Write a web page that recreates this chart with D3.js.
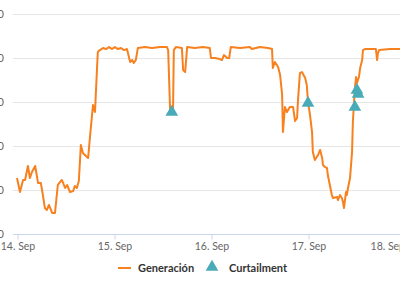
<!DOCTYPE html>
<html>
<head>
<meta charset="utf-8">
<script src="https://cdn.jsdelivr.net/npm/d3@7"></script>
<style>
  body { margin: 0; background: #fff; }
  svg { font-family: Lato, "Open Sans", sans-serif; display: block; }
</style>
</head>
<body>
<div id="chart"></div>
<script>
// hours since 14 Sep 00:00
const genHours = [0, 0.74, 1.5, 2.0, 2.7, 3.2, 3.7, 4.5, 5.2, 5.9, 6.4, 6.9, 7.4, 7.9, 8.7, 9.4, 10.1, 11.1, 11.9, 12.4,
  13.1, 13.9, 14.3, 14.8, 15.3, 15.8, 16.3, 16.8, 17.6, 18.1, 18.8, 19.3, 19.8, 20.0, 20.5, 21.3, 22.0, 22.8, 23.5, 24.2,
  25.0, 25.7, 26.5, 27.2, 28.0, 28.5, 28.9, 29.4, 29.9, 31.7, 33.4, 35.4, 37.1, 37.4, 37.9, 38.6, 38.8, 39.3, 40.8, 41.1,
  41.6, 42.1, 44.0, 46.0, 47.7, 48.0, 49.0, 50.2, 50.7, 51.2, 52.0, 52.5, 52.9, 55.2, 57.6, 58.1, 60.1, 62.1, 63.1, 63.3,
  63.8, 64.6, 65.1, 65.6, 65.8, 66.3, 66.8, 67.5, 68.3, 68.8, 69.3, 69.5, 70.0, 70.5, 71.3, 71.7, 72.0, 72.5, 73.0, 73.2,
  73.7, 74.5, 75.0, 75.5, 75.7, 76.2, 76.7, 76.9, 77.4, 77.9, 78.2, 79.2, 79.4, 79.9, 80.4, 80.7, 80.9, 81.4, 81.6, 81.9,
  82.4, 82.9, 83.1, 83.4, 83.6, 83.9, 84.1, 84.6, 84.9, 85.4, 85.6, 86.1, 88.8, 89.1, 89.3, 89.6, 92.3, 94.8, 96.5];
const generacion = [63.6, 47.7, 61.4, 61.4, 77.3, 63.6, 70.5, 77.3, 58, 58, 44.3, 29.5, 27.3, 33, 23.9, 23.9, 55.7, 61.4, 52.3, 55.7,
  47.7, 48.9, 54.5, 52.3, 60.2, 101.1, 92, 89.8, 86.4, 112.5, 146.5, 138.6, 188.6, 206.8, 209, 211.3, 210.2, 212.4, 210.2, 212.4,
  210.2, 211.3, 209, 210.2, 195.4, 197.7, 194.3, 197.7, 211.3, 212.4, 211.3, 212.4, 212.4, 209, 138.6, 138.6, 209, 212.4, 211.3, 186.3,
  184, 212.4, 211.3, 212.4, 211.3, 200, 200, 198.8, 197.7, 203.3, 200, 200, 212.4, 211.3, 212.4, 210.2, 212.4, 211.3, 210.2, 188.6,
  195.4, 189.8, 180.6, 158, 115.9, 144.3, 138.6, 144.3, 144.3, 128.4, 131.8, 150, 182.9, 184, 177.2, 169.3, 150, 135.2, 115.9, 93.2,
  84.1, 89.8, 95.5, 86.4, 78.4, 76.1, 75, 67, 55.7, 44.3, 40.9, 42, 38.6, 44.3, 40.9, 35.2, 29.5, 47.7, 44.3, 52.3,
  63.6, 93.2, 127.2, 150, 165.9, 178.4, 171.5, 178.4, 188.6, 197.7, 209, 210.2, 210.2, 197.7, 205.6, 209, 210.2, 210.2, 210.2];
const curtHours = [38.3, 72.0, 83.6, 84.1, 84.4];
const curtailment = [138.6, 148.9, 144.3, 163.6, 159];
const yTicks = [0, 50, 100, 150, 200, 250];
const legendLabels = ["Generación", "Curtailment"];

const width = 400, height = 284;
const margin = { top: 14, right: 0, bottom: 50, left: 13 };
const start = new Date(2023, 8, 14);
const end = new Date(2023, 8, 18);
const toDate = h => new Date(start.getTime() + h * 3600 * 1000);

const svg = d3.select("#chart").append("svg")
  .attr("width", width)
  .attr("height", height);

const x = d3.scaleTime()
  .domain([start, end])
  .range([17, 405]);
const y = d3.scaleLinear()
  .domain([0, 250])
  .range([234, 14]);

// grid
svg.append("g")
  .selectAll("line")
  .data(yTicks)
  .join("line")
  .attr("x1", margin.left)
  .attr("x2", width)
  .attr("y1", d => y(d) + 0.5)
  .attr("y2", d => y(d) + 0.5)
  .attr("stroke", d => d === 0 ? "#ccd6eb" : "#e6e6e6")
  .attr("stroke-width", 1);

// y labels (mostly off the left edge, like the original)
svg.append("g")
  .selectAll("text")
  .data(yTicks)
  .join("text")
  .attr("x", 4)
  .attr("y", d => y(d) + 4)
  .attr("text-anchor", "end")
  .attr("font-size", 11)
  .attr("fill", "#666")
  .text(d => d);

// x axis
const xAxis = d3.axisBottom(x)
  .ticks(d3.timeDay.every(1))
  .tickFormat(d3.timeFormat("%-d. %b"))
  .tickSize(5)
  .tickPadding(3);
const gx = svg.append("g")
  .attr("transform", `translate(0.5,${y(0) + 0.5})`)
  .call(xAxis);
gx.select(".domain").remove();
gx.selectAll(".tick line").attr("stroke", "#ccd6eb");
gx.selectAll(".tick text")
  .attr("fill", "#666")
  .attr("font-size", 10.5)
  .attr("font-family", "Lato, sans-serif");
// last label is pushed inside the chart edge
gx.selectAll(".tick")
  .filter(d => +d === +end)
  .select("text")
  .attr("text-anchor", "end")
  .attr("x", -1);

// generation line
const line = d3.line()
  .x((d, i) => x(toDate(genHours[i])))
  .y(d => y(d));
svg.append("path")
  .datum(generacion)
  .attr("d", line)
  .attr("fill", "none")
  .attr("stroke", "#f7801f")
  .attr("stroke-width", 2)
  .attr("stroke-linejoin", "round");

// curtailment markers
const tri = d3.symbol().type(d3.symbolTriangle).size(70);
svg.append("g")
  .selectAll("path")
  .data(curtailment)
  .join("path")
  .attr("transform", (d, i) => `translate(${x(toDate(curtHours[i]))},${y(d)})`)
  .attr("d", tri)
  .attr("fill", "#4aabb8");

// legend
const legend = svg.append("g")
  .attr("font-size", 11)
  .attr("font-weight", "bold")
  .attr("fill", "#333");
legend.append("line")
  .attr("x1", 118).attr("x2", 131)
  .attr("y1", 268).attr("y2", 268)
  .attr("stroke", "#f7801f")
  .attr("stroke-width", 2);
legend.append("text").attr("x", 138).attr("y", 272).text(legendLabels[0]);
legend.append("path")
  .attr("transform", "translate(212,267)")
  .attr("d", tri)
  .attr("fill", "#4aabb8");
legend.append("text").attr("x", 229).attr("y", 272).text(legendLabels[1]);
</script>
</body>
</html>
